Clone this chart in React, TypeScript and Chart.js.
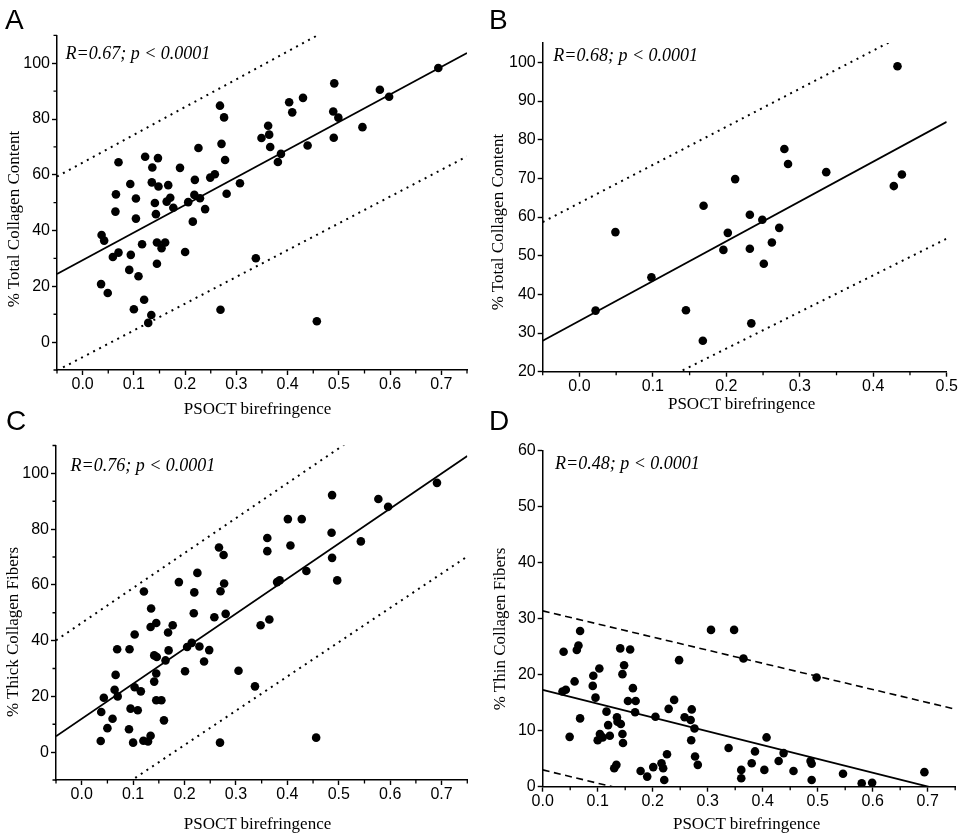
import React, { useEffect, useRef } from "react";
import { Chart, registerables } from "chart.js";

Chart.register(...registerables);

// ---------- Panel A: % Total Collagen Content vs PSOCT birefringence ----------
const aX = [0.037,0.042,0.036,0.049,0.070,0.065,0.064,0.070,0.059,0.093,0.104,0.104,0.094,0.091,0.109,0.100,0.116,0.122,0.136,0.135,0.147,0.148,0.141,0.143,0.120,0.134,0.128,0.145,0.161,0.154,0.145,0.167,0.171,0.164,0.177,0.190,0.206,0.200,0.219,0.218,0.229,0.215,0.226,0.239,0.249,0.258,0.268,0.276,0.271,0.278,0.281,0.307,0.269,0.338,0.349,0.362,0.364,0.366,0.381,0.387,0.403,0.409,0.430,0.439,0.457,0.491,0.489,0.490,0.499,0.546,0.580,0.598,0.694];
const aY = [38.4,36.4,20.8,17.6,64.5,53.0,46.8,32.1,30.5,56.7,51.5,44.3,31.3,25.9,23.6,11.8,35.1,66.5,62.6,57.3,66.0,55.8,49.9,45.9,15.2,9.7,6.9,35.7,35.7,33.7,28.1,56.3,51.8,50.4,48.2,62.5,50.2,32.3,58.2,52.8,51.6,43.2,69.6,47.7,59.0,60.2,84.8,80.6,71.1,65.3,53.2,57.0,11.6,30.1,73.2,77.6,74.4,70.0,64.6,67.5,86.0,82.4,87.6,70.5,7.5,92.8,82.7,73.3,80.5,77.1,90.5,88.0,98.3];
const aLineX = [-0.05, 0.75];
const aFit = [24.4, 103.7];
const aUpper = [59.4, 139.1];
const aLower = [-10.2, 66.6];

// ---------- Panel B ----------
const bX = [0.022,0.049,0.098,0.145,0.169,0.168,0.196,0.202,0.212,0.232,0.232,0.234,0.249,0.251,0.262,0.272,0.279,0.284,0.336,0.428,0.439,0.433];
const bY = [35.8,56.1,44.4,35.9,62.9,28.0,51.5,55.9,69.8,60.6,51.8,32.5,59.3,47.9,53.4,57.2,77.6,73.7,71.6,68.0,71.0,99.0];
const bLineX = [-0.05, 0.5];
const bFit = [28.0, 84.6];
const bUpper = [58.7, 112.9];
const bLower = [2.3, 54.4];

// ---------- Panel C ----------
const cX = [0.037,0.038,0.043,0.050,0.060,0.064,0.066,0.069,0.070,0.093,0.092,0.095,0.100,0.103,0.103,0.109,0.115,0.121,0.120,0.129,0.134,0.135,0.134,0.145,0.141,0.146,0.145,0.141,0.145,0.155,0.160,0.163,0.168,0.169,0.177,0.189,0.201,0.205,0.214,0.219,0.218,0.225,0.229,0.238,0.248,0.258,0.267,0.276,0.270,0.277,0.280,0.269,0.305,0.337,0.348,0.365,0.361,0.361,0.380,0.385,0.401,0.406,0.428,0.437,0.456,0.487,0.486,0.487,0.497,0.543,0.577,0.596,0.691];
const cY = [4.0,14.4,19.5,8.6,12.0,22.4,27.7,36.9,20.0,36.9,8.2,15.6,3.4,42.2,23.3,15.0,21.8,57.6,4.1,3.8,5.9,51.5,44.9,46.3,34.7,34.1,28.2,25.3,18.6,18.6,11.4,32.9,42.9,36.5,45.5,61.0,29.0,37.7,39.2,57.3,49.8,64.3,37.9,32.5,36.6,48.4,73.4,70.7,57.7,60.5,49.6,3.4,29.2,23.6,45.5,47.6,76.8,72.1,61.0,61.6,83.6,74.1,83.6,65.0,5.2,92.2,78.7,69.7,61.6,75.6,90.8,88.0,96.6];
const cLineX = [-0.05, 0.75];
const cFit = [5.7, 106.2];
const cUpper = [40.1, 140.3];
const cLower = [-28.2, 70.2];

// ---------- Panel D ----------
const dX = [0.038,0.036,0.042,0.049,0.058,0.062,0.065,0.068,0.068,0.092,0.091,0.096,0.103,0.100,0.104,0.109,0.116,0.119,0.122,0.135,0.136,0.142,0.145,0.146,0.130,0.134,0.141,0.148,0.145,0.159,0.164,0.155,0.169,0.168,0.178,0.190,0.201,0.205,0.216,0.219,0.221,0.226,0.229,0.239,0.248,0.258,0.269,0.271,0.276,0.270,0.277,0.282,0.306,0.338,0.348,0.365,0.361,0.361,0.380,0.386,0.403,0.407,0.429,0.438,0.456,0.487,0.489,0.489,0.498,0.546,0.580,0.599,0.694];
const dY = [24.1,17.0,17.3,8.9,18.8,24.4,25.2,27.8,12.2,19.8,18.0,15.9,21.1,8.3,9.4,8.8,13.4,11.0,9.1,12.4,11.6,11.2,9.4,7.8,3.3,3.9,24.7,21.7,20.1,24.5,17.6,15.3,15.3,13.3,2.8,1.8,3.5,12.5,4.2,3.3,1.2,5.8,13.9,15.5,22.6,12.4,11.9,13.8,10.4,8.3,5.4,3.9,28.0,6.9,28.0,22.9,3.0,1.5,4.2,6.3,3.0,8.8,4.6,6.0,2.8,4.6,4.1,1.2,19.5,2.3,0.6,0.7,2.6];
const dLineX = [0, 0.75];
const dFit = [17.3, -1.2];
const dUpper = [31.4, 13.85];
const dLower = [3.0, -14.8];

// ---------- Ticks ----------
const xMajorAC = [0, 0.1, 0.2, 0.3, 0.4, 0.5, 0.6, 0.7];
const xMinorAC = [-0.05, 0.05, 0.15, 0.25, 0.35, 0.45, 0.55, 0.65, 0.75];
const yMajorAC = [0, 20, 40, 60, 80, 100];
const yMinorAC = [-10, 10, 30, 50, 70, 90, 110];
const xMajorB = [0, 0.1, 0.2, 0.3, 0.4, 0.5];
const xMinorB = [-0.05, 0.05, 0.15, 0.25, 0.35, 0.45];
const yMajorB = [20, 30, 40, 50, 60, 70, 80, 90, 100];
const xMajorD = [0, 0.1, 0.2, 0.3, 0.4, 0.5, 0.6, 0.7];
const xMinorD = [0.05, 0.15, 0.25, 0.35, 0.45, 0.55, 0.65, 0.75];
const yMajorD = [0, 10, 20, 30, 40, 50, 60];

const xTitle = "PSOCT birefringence";

const minorTicksPlugin = {
  id: "minorTicks",
  afterDraw(chart: any, _args: any, opts: any) {
    const { ctx } = chart;
    const xs = chart.scales.x;
    const ys = chart.scales.y;
    const len = opts.len || 3.5;
    ctx.save();
    ctx.strokeStyle = "#000";
    ctx.lineWidth = 1.3;
    ctx.beginPath();
    for (const v of opts.x || []) {
      const px = xs.getPixelForValue(v);
      ctx.moveTo(px, chart.chartArea.bottom);
      ctx.lineTo(px, chart.chartArea.bottom + len);
    }
    for (const v of opts.y || []) {
      const py = ys.getPixelForValue(v);
      ctx.moveTo(chart.chartArea.left, py);
      ctx.lineTo(chart.chartArea.left - len, py);
    }
    ctx.stroke();
    ctx.restore();
  },
};

type PanelCfg = {
  left: number; top: number; w: number; h: number;
  xs: number[]; ys: number[];
  lineX: number[]; fit: number[]; upper: number[]; lower: number[];
  dash: number[]; bandWidth: number;
  xMin: number; xMax: number; yMin: number; yMax: number;
  xMajor: number[]; xMinor: number[]; yMajor: number[]; yMinor: number[];
  yW: number; xH: number; padTop: number; padRight: number;
};

const pts = (xs: number[], ys: number[]) => xs.map((x, i) => ({ x, y: ys[i] }));

function Panel({ cfg }: { cfg: PanelCfg }) {
  const ref = useRef<HTMLCanvasElement>(null);
  useEffect(() => {
    const tickFont = { family: "'Liberation Sans', Arial, sans-serif", size: 16 };
    const lineDs = (ys: number[], width: number, dash: number[]) => ({
      data: pts(cfg.lineX, ys),
      showLine: true,
      borderColor: "#000",
      backgroundColor: "#000",
      borderWidth: width,
      borderDash: dash,
      borderCapStyle: "butt",
      pointRadius: 0,
      fill: false,
    });
    const chart = new Chart(ref.current as HTMLCanvasElement, {
      type: "scatter",
      data: {
        datasets: [
          {
            data: pts(cfg.xs, cfg.ys),
            backgroundColor: "#000",
            borderColor: "#000",
            borderWidth: 0,
            pointRadius: 4.3,
          } as any,
          lineDs(cfg.fit, 1.8, []) as any,
          lineDs(cfg.upper, cfg.bandWidth, cfg.dash) as any,
          lineDs(cfg.lower, cfg.bandWidth, cfg.dash) as any,
        ],
      },
      options: {
        animation: false,
        responsive: false,
        events: [],
        layout: { padding: { left: 0, top: cfg.padTop, right: cfg.padRight, bottom: 0 } },
        plugins: {
          legend: { display: false },
          tooltip: { enabled: false },
          minorTicks: { x: cfg.xMinor, y: cfg.yMinor, len: 3.5 },
        } as any,
        scales: {
          x: {
            type: "linear",
            min: cfg.xMin,
            max: cfg.xMax,
            afterBuildTicks: (s: any) => { s.ticks = cfg.xMajor.map((v) => ({ value: v })); },
            afterFit: (s: any) => { s.height = cfg.xH; },
            ticks: {
              color: "#000",
              font: tickFont,
              padding: 0,
              maxRotation: 0,
              autoSkip: false,
              callback: (v: any) => Number(v).toFixed(1),
            },
            grid: { drawOnChartArea: false, drawTicks: true, tickLength: 5, tickColor: "#000", tickWidth: 1.4 },
            border: { display: true, color: "#000", width: 1.5 },
          },
          y: {
            type: "linear",
            min: cfg.yMin,
            max: cfg.yMax,
            afterBuildTicks: (s: any) => { s.ticks = cfg.yMajor.map((v) => ({ value: v })); },
            afterFit: (s: any) => { s.width = cfg.yW; },
            ticks: {
              color: "#000",
              font: tickFont,
              padding: 2,
              autoSkip: false,
              callback: (v: any) => String(v),
            },
            grid: { drawOnChartArea: false, drawTicks: true, tickLength: 5, tickColor: "#000", tickWidth: 1.4 },
            border: { display: true, color: "#000", width: 1.5 },
          },
        },
      } as any,
      plugins: [minorTicksPlugin as any],
    });
    return () => chart.destroy();
  }, []);
  return (
    <canvas
      ref={ref}
      width={cfg.w}
      height={cfg.h}
      style={{ position: "absolute", left: cfg.left, top: cfg.top, width: cfg.w, height: cfg.h }}
    />
  );
}

const dotted = [2, 4.8];
const dashed = [7, 4.5];

const panels: PanelCfg[] = [
  {
    left: 0, top: 0, w: 480, h: 420, xs: aX, ys: aY, lineX: aLineX, fit: aFit, upper: aUpper, lower: aLower,
    dash: dotted, bandWidth: 2, xMin: -0.05, xMax: 0.75, yMin: -10, yMax: 110,
    xMajor: xMajorAC, xMinor: xMinorAC, yMajor: yMajorAC, yMinor: yMinorAC,
    yW: 57, xH: 50, padTop: 35.4, padRight: 13,
  },
  {
    left: 480, top: 0, w: 480, h: 420, xs: bX, ys: bY, lineX: bLineX, fit: bFit, upper: bUpper, lower: bLower,
    dash: dotted, bandWidth: 2, xMin: -0.05, xMax: 0.5, yMin: 20, yMax: 105,
    xMajor: xMajorB, xMinor: xMinorB, yMajor: yMajorB, yMinor: [],
    yW: 62.7, xH: 48.3, padTop: 43, padRight: 13.3,
  },
  {
    left: 0, top: 420, w: 480, h: 418, xs: cX, ys: cY, lineX: cLineX, fit: cFit, upper: cUpper, lower: cLower,
    dash: dotted, bandWidth: 2, xMin: -0.05, xMax: 0.75, yMin: -10, yMax: 110,
    xMajor: xMajorAC, xMinor: xMinorAC, yMajor: yMajorAC, yMinor: yMinorAC,
    yW: 56, xH: 58, padTop: 25.5, padRight: 12.7,
  },
  {
    left: 480, top: 420, w: 480, h: 418, xs: dX, ys: dY, lineX: dLineX, fit: dFit, upper: dUpper, lower: dLower,
    dash: dashed, bandWidth: 1.6, xMin: 0, xMax: 0.75, yMin: 0, yMax: 60,
    xMajor: xMajorD, xMinor: xMinorD, yMajor: yMajorD, yMinor: [],
    yW: 62.7, xH: 51.3, padTop: 30.7, padRight: 4.8,
  },
];

const serif = "'Liberation Serif', 'Times New Roman', serif";
const sans = "'Liberation Sans', Arial, sans-serif";

const letters = [
  { t: "A", x: 5, cy: 20.3 },
  { t: "B", x: 489, cy: 20.3 },
  { t: "C", x: 6, cy: 420.5 },
  { t: "D", x: 489, cy: 420.5 },
];
const notes = [
  { t: "R=0.67; p < 0.0001", x: 65.5, cy: 53.4 },
  { t: "R=0.68; p < 0.0001", x: 553.3, cy: 55.2 },
  { t: "R=0.76; p < 0.0001", x: 70.5, cy: 465 },
  { t: "R=0.48; p < 0.0001", x: 555, cy: 462.8 },
];
const xTitles = [
  { x: 257.5, cy: 408 },
  { x: 741.7, cy: 403 },
  { x: 257.5, cy: 822.9 },
  { x: 746.7, cy: 823.3 },
];
const yTitles = [
  { t: "% Total Collagen Content", cx: 13, cy: 219 },
  { t: "% Total Collagen Content", cx: 497, cy: 222 },
  { t: "% Thick Collagen Fibers", cx: 12, cy: 631.5 },
  { t: "% Thin Collagen Fibers", cx: 499, cy: 628.5 },
];

export default function App() {
  return (
    <div style={{ position: "absolute", left: 0, top: 0, width: 960, height: 838, background: "#fff", overflow: "hidden" }}>
      {panels.map((p, i) => (
        <Panel key={i} cfg={p} />
      ))}
      {letters.map((l, i) => (
        <div key={"l" + i} style={{ position: "absolute", left: l.x, top: l.cy, transform: "translateY(-50%)", fontFamily: sans, fontSize: 28, lineHeight: 1, color: "#000", whiteSpace: "nowrap" }}>{l.t}</div>
      ))}
      {notes.map((n, i) => (
        <div key={"n" + i} style={{ position: "absolute", left: n.x, top: n.cy, transform: "translateY(-50%)", fontFamily: serif, fontStyle: "italic", fontSize: 18, lineHeight: 1, color: "#000", whiteSpace: "nowrap" }}>{n.t}</div>
      ))}
      {xTitles.map((t, i) => (
        <div key={"x" + i} style={{ position: "absolute", left: t.x, top: t.cy, transform: "translate(-50%, -50%)", fontFamily: serif, fontSize: 17, lineHeight: 1, color: "#000", whiteSpace: "nowrap" }}>{xTitle}</div>
      ))}
      {yTitles.map((t, i) => (
        <div key={"y" + i} style={{ position: "absolute", left: t.cx, top: t.cy, transform: "translate(-50%, -50%) rotate(-90deg)", fontFamily: serif, fontSize: 17, lineHeight: 1, color: "#000", whiteSpace: "nowrap" }}>{t.t}</div>
      ))}
    </div>
  );
}
